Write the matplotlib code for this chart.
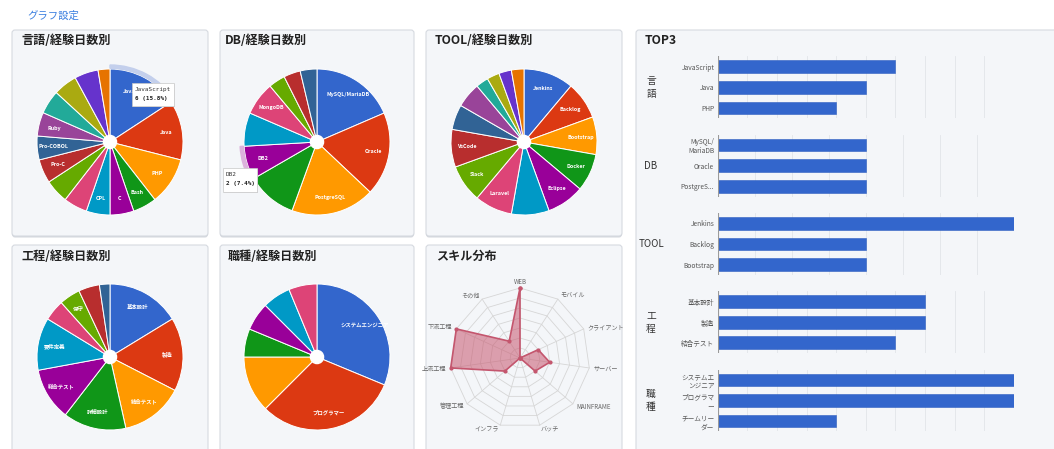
import matplotlib
matplotlib.use("Agg")
import matplotlib.pyplot as plt
from matplotlib.patches import FancyBboxPatch, Wedge, Circle, Rectangle
import numpy as np

plt.rcParams['font.family'] = ['Noto Sans CJK JP', 'DejaVu Sans']

W, H = 1054, 449
COLORS = ['#3366cc', '#dc3912', '#ff9900', '#109618', '#990099', '#0099c6',
          '#dd4477', '#66aa00', '#b82e2e', '#316395', '#994499', '#22aa99',
          '#aaaa11', '#6633cc', '#e67300']

# 言語
lang_labels = ['JavaScript', 'Java', 'PHP', 'Bash', 'C', 'CPL', '', '',
               'Pro-C', 'Pro-COBOL', 'Ruby', '', '', '', '']
lang_values = [6, 5, 4, 2, 2, 2, 2, 2, 2, 2, 2, 2, 2, 2, 1]
# DB
db_labels = ['MySQL/MariaDB', 'Oracle', 'PostgreSQL', '', 'DB2', '',
             'MongoDB', '', '', '']
db_values = [5, 5, 5, 3, 2, 2, 2, 1, 1, 1]
# TOOL
tool_labels = ['Jenkins', 'Backlog', 'Bootstrap', 'Docker', 'Eclipse', '',
               'Laravel', 'Slack', 'VsCode', '', '', '', '', '', '']
tool_values = [4, 3, 3, 3, 3, 3, 3, 3, 3, 2, 2, 1, 1, 1, 1]
# 工程
proc_labels = ['基本設計', '製造', '結合テスト', '詳細設計', '総合テスト',
               '要件定義', '', '保守', '', '']
proc_values = [7, 7, 6, 6, 5, 5, 2, 2, 2, 1]
# 職種
job_labels = ['システムエンジニア', 'プログラマー', '', '', '', '', '']
job_values = [10, 10, 4, 2, 2, 2, 2]

# スキル分布
radar_labels = ['WEB', 'モバイル', 'クライアント', 'サーバー', 'MAINFRAME',
                'バッチ', 'インフラ', '管理工程', '上流工程', '下流工程', 'その他']
radar_values = [7, 0, 2, 3, 2, 0, 0, 2, 7, 7, 2]
radar_max = 7

# TOP3
top3_groups = ['言\n語', 'DB', 'TOOL', '工\n程', '職\n種']
top3_lang = ['JavaScript', 'Java', 'PHP']
top3_lang_val = [6, 5, 4]
top3_db = ['MySQL/\nMariaDB', 'Oracle', 'PostgreS...']
top3_db_val = [4, 4, 4]
top3_tool = ['Jenkins', 'Backlog', 'Bootstrap']
top3_tool_val = [8, 4, 4]
top3_proc = ['基本設計', '製造', '結合テスト']
top3_proc_val = [7, 7, 6]
top3_job = ['システムエ\nンジニア', 'プログラマ\nー', 'チームリー\nダー']
top3_job_val = [10, 10, 4]
top3_max = [10, 8, 8, 10, 10]

fig = plt.figure(figsize=(W / 100, H / 100), dpi=100)
fig.patch.set_facecolor('white')


def fx(x):
    return x / W


def fy(y):
    return 1 - y / H


def panel(x0, y0, x1, y1):
    # 影 + 本体 (ピクセル座標, 左上原点)
    for off, fc, ec in [(1.5, '#d3d7dd', 'none'), (0, '#f4f6f9', '#d6dae0')]:
        p = FancyBboxPatch((x0 / 100, (H - y1 - off) / 100),
                           (x1 - x0) / 100, (y1 - y0) / 100,
                           boxstyle='round,pad=0,rounding_size=0.03',
                           transform=fig.dpi_scale_trans, fc=fc, ec=ec,
                           lw=0.8, zorder=-5)
        fig.add_artist(p)


def title(x, y, s):
    fig.text(fx(x), fy(y), s, fontsize=8.7, fontweight='bold', color='#222222',
             ha='left', va='center')


fig.text(fx(27), fy(16), 'グラフ設定', fontsize=7.5, color='#3b7fe0',
         ha='left', va='center')

panel(12, 30, 208, 236)
panel(220, 30, 414, 236)
panel(426, 30, 622, 236)
panel(12, 245, 208, 470)
panel(220, 245, 414, 470)
panel(426, 245, 622, 470)
panel(636, 30, 1070, 470)

title(21, 40, '言語/経験日数別')
title(225, 40, 'DB/経験日数別')
title(435, 40, 'TOOL/経験日数別')
title(22, 256, '工程/経験日数別')
title(228, 256, '職種/経験日数別')
title(436, 256, 'スキル分布')
title(645, 40, 'TOP3')


def pie_chart(cx, cy, values, labels, r=73, s=90):
    ax = fig.add_axes([fx(cx - s), fy(cy + s), 2 * s / W, 2 * s / H])
    wedges, _ = ax.pie(values, radius=1, colors=COLORS[:len(values)],
                       startangle=90, counterclock=False,
                       wedgeprops=dict(edgecolor='white', linewidth=0.7))
    ax.add_patch(Circle((0, 0), 0.09, color='white', zorder=5))
    texts = []
    for w, lab in zip(wedges, labels):
        if lab:
            a = np.deg2rad((w.theta1 + w.theta2) / 2)
            t = ax.text(0.78 * np.cos(a), 0.78 * np.sin(a), lab, color='white',
                        fontsize=3.9, fontweight='bold', ha='center',
                        va='center', zorder=6)
            texts.append(t)
    ax.set_xlim(-s / r, s / r)
    ax.set_ylim(-s / r, s / r)
    ax.axis('off')
    return ax, wedges, texts


def tooltip(x0, y0, x1, y1, l1, l2):
    fig.add_artist(Rectangle((fx(x0) + 0.001, fy(y1) - 0.003), (x1 - x0) / W,
                             (y1 - y0) / H, transform=fig.transFigure,
                             fc='#cfd2d6', ec='none', zorder=8))
    fig.add_artist(Rectangle((fx(x0), fy(y1)), (x1 - x0) / W, (y1 - y0) / H,
                             transform=fig.transFigure, fc='white',
                             ec='#c8c8c8', lw=0.5, zorder=9))
    fig.text(fx(x0 + 3), fy(y0 + 7), l1, fontsize=4.3, family='DejaVu Sans Mono',
             color='#333333', ha='left', va='center', zorder=10)
    fig.text(fx(x0 + 3), fy(y0 + 15.5), l2, fontsize=4.3,
             family='DejaVu Sans Mono', fontweight='bold', color='#222222',
             ha='left', va='center', zorder=10)


ax1, w1, t1 = pie_chart(110, 142, lang_values, lang_labels)
ax1.add_patch(Wedge((0, 0), 1.055, w1[0].theta1, w1[0].theta2, width=0.045,
                    color='#c3cfec', zorder=1))
# ツールチップの下に隠れる部分を切る
clip = Rectangle((fx(100), fy(110)), (132 - 100) / W, 30 / H,
                 transform=fig.transFigure)
t1[0].set_clip_path(clip)
ax2, w2, _ = pie_chart(317, 142, db_values, db_labels)
ax2.add_patch(Wedge((0, 0), 1.055, w2[4].theta1, w2[4].theta2, width=0.045,
                    color='#dcb2dc', zorder=1))
pie_chart(524, 142, tool_values, tool_labels)
pie_chart(110, 357, proc_values, proc_labels)
pie_chart(317, 357, job_values, job_labels)

tooltip(132, 83, 174, 106, 'JavaScript', '6 (15.8%)')
tooltip(223, 168, 257, 192, 'DB2', '2 (7.4%)')

# レーダー
R = 70
s = 100
axr = fig.add_axes([fx(520 - s), fy(358 + s), 2 * s / W, 2 * s / H])
n = len(radar_labels)
th = np.deg2rad(90 - np.arange(n) * 360 / n)
for k in range(1, radar_max + 1):
    xs = np.append(k * np.cos(th), k * np.cos(th[0]))
    ys = np.append(k * np.sin(th), k * np.sin(th[0]))
    axr.plot(xs, ys, color='#d6d6d6', lw=0.6, zorder=1)
for t in th:
    axr.plot([0, radar_max * np.cos(t)], [0, radar_max * np.sin(t)],
             color='#d6d6d6', lw=0.6, zorder=1)
vals = np.array(radar_values, dtype=float)
px = np.append(vals * np.cos(th), vals[0] * np.cos(th[0]))
py = np.append(vals * np.sin(th), vals[0] * np.sin(th[0]))
axr.fill(px, py, color='#c8576f', alpha=0.55, lw=0, zorder=2)
axr.plot(px, py, color='#c4566e', lw=1.2, marker='o', ms=2, zorder=3)
for lab, t in zip(radar_labels, th):
    c = np.cos(t)
    ha = 'left' if c > 0.15 else ('right' if c < -0.15 else 'center')
    lr = radar_max * 1.06 if ha != 'center' else radar_max * 1.08
    axr.text(lr * np.cos(t), lr * np.sin(t), lab, fontsize=4.4, color='#666666',
             ha=ha, va='center')
lim = s / R * radar_max
axr.set_xlim(-lim, lim)
axr.set_ylim(-lim, lim)
axr.axis('off')

# TOP3 棒グラフ
bar_sets = [(top3_lang, top3_lang_val), (top3_db, top3_db_val),
            (top3_tool, top3_tool_val), (top3_proc, top3_proc_val),
            (top3_job, top3_job_val)]
first_y = 66.7
step = 78.3
x0, x1 = 717.7, 1014
for i, ((labs, vals_b), grp, mx) in enumerate(zip(bar_sets, top3_groups, top3_max)):
    yc = first_y + i * step
    ax = fig.add_axes([fx(x0), fy(yc + 2 * 20.6 + 10.3), (x1 - x0) / W,
                       3 * 20.6 / H])
    ax.set_facecolor('none')
    ax.barh(range(3), vals_b, height=0.62, color='#3366cc',
            edgecolor='#2f5fc0', lw=0.4, zorder=3)
    ax.set_xlim(0, mx)
    ax.set_ylim(2.5, -0.5)
    ax.set_xticks(range(mx + 1))
    ax.xaxis.grid(True, color='#e2e5e9', lw=0.6, zorder=0)
    ax.axvline(mx, color='#d0d3d8', lw=0.6, zorder=1)
    ax.axvline(0, color='#9a9a9a', lw=0.8, zorder=4)
    ax.tick_params(axis='x', length=0, labelbottom=False)
    ax.set_yticks(range(3))
    ax.set_yticklabels(labs, fontsize=4.8, color='#555555', linespacing=1.2)
    ax.tick_params(axis='y', length=0, pad=2.5)
    for sp in ax.spines.values():
        sp.set_visible(False)
    ax.annotate(grp, xy=(0, 0.5), xycoords='axes fraction', xytext=(-48, 0),
                textcoords='offset points', ha='center', va='center',
                fontsize=7, color='#333333', linespacing=1.35)

fig.savefig('out.png', dpi=100, facecolor='white')
